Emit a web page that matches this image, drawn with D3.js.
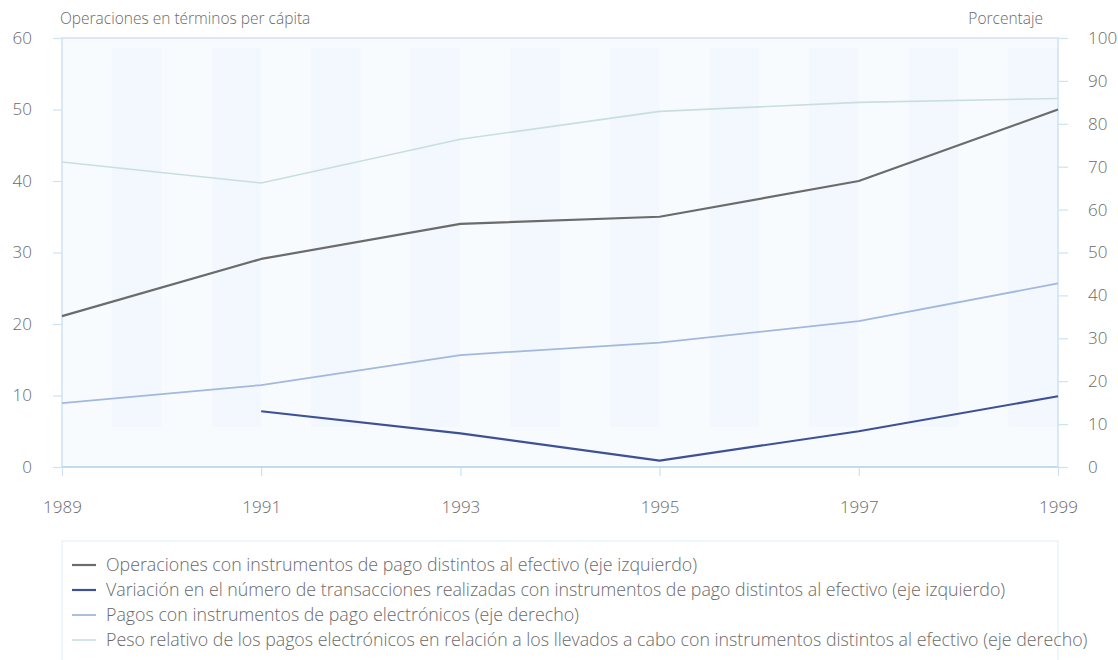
<!DOCTYPE html>
<html>
<head>
<meta charset="utf-8">
<script src="https://cdn.jsdelivr.net/npm/d3@7"></script>
<style>
  body { margin: 0; background: #fff; }
  text { font-family: "Open Sans", sans-serif; font-weight: 300; fill: #6a6a6a; }
</style>
</head>
<body>
<script>
// data
var years = [1989, 1991, 1993, 1995, 1997, 1999];
var operaciones = [21.1, 29.1, 34.0, 35.0, 40.0, 50.0];            // eje izquierdo
var variacion = [null, 7.8, 4.7, 0.9, 5.0, 9.9];                   // eje izquierdo
var pagosElectronicos = [14.9, 19.1, 26.1, 29.0, 34.0, 42.8];      // eje derecho
var pesoRelativo = [71.1, 66.2, 76.4, 82.9, 85.0, 85.9];           // eje derecho
var leftTicks = [0, 10, 20, 30, 40, 50, 60];
var rightTicks = [0, 10, 20, 30, 40, 50, 60, 70, 80, 90, 100];
var legendLabels = [
  "Operaciones con instrumentos de pago distintos al efectivo (eje izquierdo)",
  "Variación en el número de transacciones realizadas con instrumentos de pago distintos al efectivo (eje izquierdo)",
  "Pagos con instrumentos de pago electrónicos (eje derecho)",
  "Peso relativo de los pagos electrónicos en relación a los llevados a cabo con instrumentos distintos al efectivo (eje derecho)"
];

var W = 1118, H = 660;
var plot = { left: 62, right: 1058, top: 38, bottom: 467 };
var colors = ["#6b6b6b", "#3f5096", "#a3b8de", "#c9dedf"];
var widths = [2.2, 2.2, 1.8, 1.6];

var svg = d3.select("body").append("svg").attr("width", W).attr("height", H);

var x = d3.scaleLinear().domain([1989, 1999]).range([plot.left, plot.right]);
var yL = d3.scaleLinear().domain([0, 60]).range([plot.bottom, plot.top]);
var yR = d3.scaleLinear().domain([0, 100]).range([plot.bottom, plot.top]);

// pale background with faint vertical bands
svg.append("rect")
  .attr("x", plot.left).attr("y", plot.top)
  .attr("width", plot.right - plot.left).attr("height", plot.bottom - plot.top)
  .attr("fill", "#f8fbfe");
svg.selectAll(".band")
  .data(d3.range(1989, 1999, 0.5).filter(function (d, i) { return i % 2 == 1; }))
  .enter().append("rect")
  .attr("class", "band")
  .attr("x", function (d) { return x(d); })
  .attr("y", plot.top + 10)
  .attr("width", x(1989.5) - x(1989))
  .attr("height", plot.bottom - plot.top - 50)
  .attr("fill", "#f2f8fd");

// frame
svg.append("path")
  .attr("d", `M${plot.left},${plot.bottom}V${plot.top}H${plot.right}V${plot.bottom}`)
  .attr("fill", "none").attr("stroke", "#cde2f3").attr("stroke-width", 1.5);

// axes
var axisLeft = d3.axisLeft(yL).tickValues(leftTicks).tickSize(9).tickPadding(21);
var axisRight = d3.axisRight(yR).tickValues(rightTicks).tickSize(10).tickPadding(20);
var axisBottom = d3.axisBottom(x).tickValues(years).tickFormat(d3.format("d")).tickSize(9).tickPadding(25);

function styleAxis(g) {
  g.select(".domain").remove();
  g.selectAll(".tick line").attr("stroke", "#cde2f3").attr("stroke-width", 1.2);
  g.selectAll(".tick text").style("font-size", "17px").style("font-family", "'Open Sans', sans-serif")
    .style("font-weight", 300).attr("fill", "#6a6a6a");
}

svg.append("g").attr("transform", `translate(${plot.left},0)`).call(axisLeft).call(styleAxis);
svg.append("g").attr("transform", `translate(${plot.right},0)`).call(axisRight).call(styleAxis);
svg.append("g").attr("transform", `translate(0,${plot.bottom})`).call(axisBottom).call(styleAxis);

// baseline
svg.append("line")
  .attr("x1", plot.left).attr("x2", plot.right)
  .attr("y1", yL(0)).attr("y2", yL(0))
  .attr("stroke", "#c2dbf0").attr("stroke-width", 1.8);

// axis titles
svg.append("text").attr("x", 60).attr("y", 24).style("font-size", "15.5px")
  .text("Operaciones en términos per cápita");
svg.append("text").attr("x", 1043).attr("y", 24).attr("text-anchor", "end").style("font-size", "15.5px")
  .text("Porcentaje");

// lines
var series = [
  { values: operaciones, y: yL },
  { values: variacion, y: yL },
  { values: pagosElectronicos, y: yR },
  { values: pesoRelativo, y: yR }
];

series.slice().reverse().forEach(function (s, j) {
  var i = series.length - 1 - j;
  var line = d3.line()
    .defined(function (d) { return d != null; })
    .x(function (d, k) { return x(years[k]); })
    .y(function (d) { return s.y(d); });
  svg.append("path")
    .datum(s.values)
    .attr("d", line)
    .attr("fill", "none")
    .attr("stroke", colors[i])
    .attr("stroke-width", widths[i])
    .attr("stroke-linejoin", "round");
});

// legend
svg.append("rect")
  .attr("x", 62).attr("y", 541).attr("width", 996).attr("height", 130)
  .attr("fill", "#fff").attr("stroke", "#e6f0f8").attr("stroke-width", 1.2);

var legend = svg.selectAll(".legend")
  .data(legendLabels)
  .enter().append("g")
  .attr("class", "legend")
  .attr("transform", function (d, i) { return `translate(72,${565 + i * 25})`; });

legend.append("line")
  .attr("x1", 0).attr("x2", 24).attr("y1", 0).attr("y2", 0)
  .attr("stroke", function (d, i) { return colors[i]; })
  .attr("stroke-width", function (d, i) { return widths[i]; });

legend.append("text")
  .attr("x", 34).attr("y", 6)
  .style("font-size", "17.8px")
  .text(function (d) { return d; });
</script>
</body>
</html>
